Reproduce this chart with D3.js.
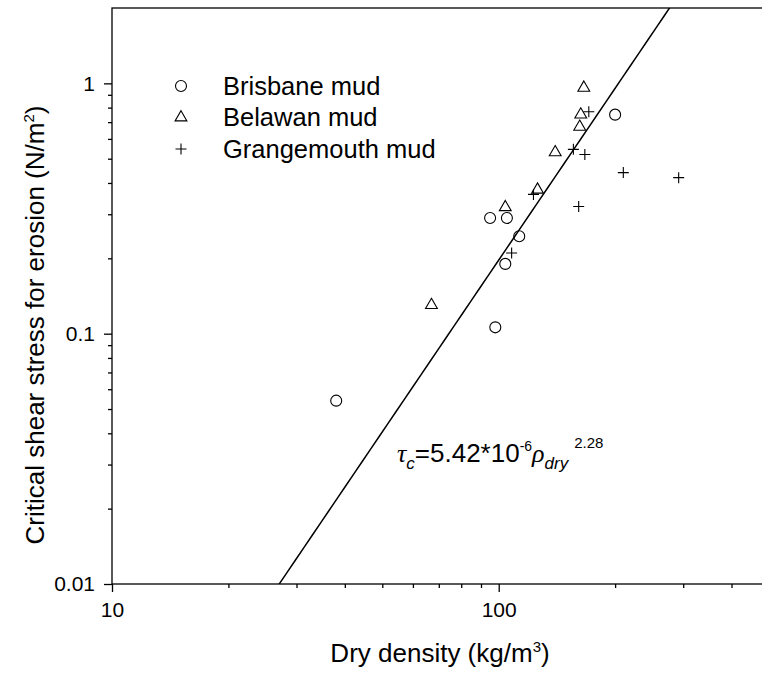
<!DOCTYPE html>
<html>
<head>
<meta charset="utf-8">
<script src="https://cdn.jsdelivr.net/npm/d3@7/dist/d3.min.js"></script>
<style>
  html, body { margin: 0; padding: 0; background: #fff; }
  svg { display: block; font-family: "Liberation Sans", Arial, sans-serif; }
</style>
</head>
<body>
<svg id="chart" width="762" height="673"></svg>
<script>
// Measured data: dry density (kg/m^3) vs critical shear stress for erosion (N/m^2)
const brisbaneDensity = [38, 95, 98, 104, 105, 113, 200];
const brisbaneStress  = [0.054, 0.29, 0.106, 0.19, 0.29, 0.245, 0.75];

const belawanDensity = [67, 104, 126, 140, 162, 163, 166];
const belawanStress  = [0.13, 0.32, 0.376, 0.53, 0.67, 0.75, 0.96];

const grangeDensity = [108, 123, 156, 161, 167, 171, 210, 292];
const grangeStress  = [0.21, 0.36, 0.545, 0.322, 0.52, 0.77, 0.44, 0.42];

// Power-law fit: tau_c = a * rho_dry^b
const fitA = 5.42e-6;
const fitB = 2.28;

const xMajorTicks = [10, 100];
const xMinorTicks = [20, 30, 40, 50, 60, 70, 80, 90, 200, 300, 400];
const yMajorTicks = [0.01, 0.1, 1];
const yMinorTicks = [0.02, 0.03, 0.04, 0.05, 0.06, 0.07, 0.08, 0.09,
                     0.2, 0.3, 0.4, 0.5, 0.6, 0.7, 0.8, 0.9];

const seriesNames = ["Brisbane mud", "Belawan mud", "Grangemouth mud"];

const svg = d3.select("#chart");
const plotLeft = 112, plotTop = 8, plotRight = 769, plotBottom = 584;

const x = d3.scaleLog().domain([10, 500]).range([plotLeft, plotRight]);
const y = d3.scaleLog().domain([0.01, 2]).range([plotBottom, plotTop]);

// frame
svg.append("rect")
  .attr("x", plotLeft).attr("y", plotTop)
  .attr("width", plotRight - plotLeft).attr("height", plotBottom - plotTop)
  .attr("fill", "none").attr("stroke", "#000").attr("stroke-width", 1.3);

function styleAxis(g) {
  g.select(".domain").remove();
  g.selectAll(".tick line").attr("stroke", "#000").attr("stroke-width", 1.3);
  g.selectAll(".tick text").attr("fill", "#000").style("font-size", "21px")
    .style("font-family", "Liberation Sans, Arial, sans-serif");
}

// x axis
svg.append("g").attr("transform", `translate(0,${plotBottom})`)
  .call(d3.axisBottom(x).tickValues(xMajorTicks).tickSize(8).tickPadding(10)
    .tickFormat(d3.format("d")))
  .call(styleAxis);
svg.append("g").attr("transform", `translate(0,${plotBottom})`)
  .call(d3.axisBottom(x).tickValues(xMinorTicks).tickSize(4).tickFormat(""))
  .call(styleAxis);

// y axis
svg.append("g").attr("transform", `translate(${plotLeft},0)`)
  .call(d3.axisLeft(y).tickValues(yMajorTicks).tickSize(8).tickPadding(9)
    .tickFormat(d => String(d)))
  .call(styleAxis);
svg.append("g").attr("transform", `translate(${plotLeft},0)`)
  .call(d3.axisLeft(y).tickValues(yMinorTicks).tickSize(4).tickFormat(""))
  .call(styleAxis);

// fitted line, clipped to the plot area
svg.append("clipPath").attr("id", "plotClip")
  .append("rect").attr("x", plotLeft).attr("y", plotTop)
  .attr("width", plotRight - plotLeft).attr("height", plotBottom - plotTop);

const fitDomain = d3.range(0, 61).map(i => 20 * Math.pow(400 / 20, i / 60));
svg.append("path")
  .attr("clip-path", "url(#plotClip)")
  .datum(fitDomain)
  .attr("fill", "none").attr("stroke", "#000").attr("stroke-width", 1.5)
  .attr("d", d3.line().x(d => x(d)).y(d => y(fitA * Math.pow(d, fitB))));

// marker shapes
const markerSize = 11;
const circlePath = d3.symbol().type(d3.symbolCircle).size(Math.PI * (markerSize / 2) ** 2)();
const trianglePath = d3.symbol().type(d3.symbolTriangle).size(markerSize * markerSize * 0.5)();
const half = markerSize / 2;
const plusPath = `M${-half},0H${half}M0,${-half}V${half}`;

function drawSeries(xs, ys, path) {
  svg.append("g").selectAll("path")
    .data(xs.map((d, i) => [d, ys[i]]))
    .join("path")
    .attr("d", path)
    .attr("transform", d => `translate(${x(d[0])},${y(d[1])})`)
    .attr("fill", "none").attr("stroke", "#000").attr("stroke-width", 1.1);
}
drawSeries(brisbaneDensity, brisbaneStress, circlePath);
drawSeries(belawanDensity, belawanStress, trianglePath);
drawSeries(grangeDensity, grangeStress, plusPath);

// legend
const legend = svg.append("g").attr("transform", "translate(181,86)");
const legendPaths = [circlePath, trianglePath, plusPath];
seriesNames.forEach((name, i) => {
  const row = legend.append("g").attr("transform", `translate(0,${i * 31.5})`);
  row.append("path").attr("d", legendPaths[i])
    .attr("fill", "none").attr("stroke", "#000").attr("stroke-width", 1.1);
  row.append("text").attr("x", 42).attr("y", 0).attr("dy", "0.35em")
    .style("font-size", "25.5px").text(name);
});

// axis titles
const xt = svg.append("text").attr("x", 440).attr("y", 662)
  .attr("text-anchor", "middle").style("font-size", "26px");
xt.append("tspan").text("Dry density (kg/m");
xt.append("tspan").attr("dy", -10).style("font-size", "15px").text("3");
xt.append("tspan").attr("dy", 10).text(")");

const yt = svg.append("text")
  .attr("transform", "translate(44,325) rotate(-90)")
  .attr("text-anchor", "middle").style("font-size", "26px");
yt.append("tspan").text("Critical shear stress for erosion (N/m");
yt.append("tspan").attr("dy", -10).style("font-size", "15px").text("2");
yt.append("tspan").attr("dy", 10).text(")");

// fit equation
const eq = svg.append("text").attr("x", 397).attr("y", 462).style("font-size", "26px");
eq.append("tspan").style("font-family", "Liberation Serif, serif")
  .style("font-style", "italic").text("\u03C4");
eq.append("tspan").attr("dy", 7).style("font-size", "17px").style("font-style", "italic").text("c");
eq.append("tspan").attr("dy", -7).text("=5.42*10");
eq.append("tspan").attr("dy", -11).style("font-size", "14px").text("-6");
eq.append("tspan").attr("dy", 11).style("font-family", "Liberation Serif, serif")
  .style("font-style", "italic").text("\u03C1");
eq.append("tspan").attr("dy", 7).style("font-size", "17px").style("font-style", "italic").text("dry");
eq.append("tspan").attr("dx", 6).attr("dy", -21).style("font-size", "15px").text("2.28");
</script>
</body>
</html>
